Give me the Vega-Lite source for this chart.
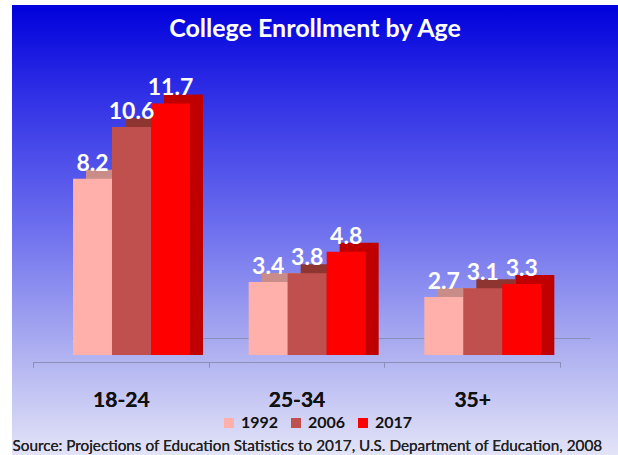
{
  "$schema": "https://vega.github.io/schema/vega-lite/v6.json",
  "autosize": {"type": "none"},
  "padding": {"left": 12, "top": 5, "right": 0, "bottom": 0},
  "width": 606,
  "height": 450,
  "background": "white",
  "view": {
    "stroke": null,
    "fill": {
      "gradient": "linear",
      "x1": 0, "y1": 0, "x2": 0, "y2": 1,
      "stops": [
        {"offset": 0, "color": "#0000dc"},
        {"offset": 0.2, "color": "#3030e6"},
        {"offset": 0.5, "color": "#6e70ee"},
        {"offset": 0.75, "color": "#a9abf0"},
        {"offset": 1, "color": "#e3e4f7"}
      ]
    }
  },
  "config": {"font": "Lato"},
  "title": {
    "text": "College Enrollment by Age",
    "color": "white",
    "font": "Lato",
    "fontSize": 25,
    "fontWeight": "bold",
    "anchor": "middle",
    "baseline": "middle",
    "offset": -27,
    "dy": 22
  },
  "data": {
    "values": [
      {"age": "18-24", "year": "1992", "value": 8.2},
      {"age": "18-24", "year": "2006", "value": 10.6},
      {"age": "18-24", "year": "2017", "value": 11.7},
      {"age": "25-34", "year": "1992", "value": 3.4},
      {"age": "25-34", "year": "2006", "value": 3.8},
      {"age": "25-34", "year": "2017", "value": 4.8},
      {"age": "35+", "year": "1992", "value": 2.7},
      {"age": "35+", "year": "2006", "value": 3.1},
      {"age": "35+", "year": "2017", "value": 3.3}
    ]
  },
  "encoding": {
    "x": {
      "field": "age",
      "type": "nominal",
      "sort": ["18-24", "25-34", "35+"],
      "scale": {"range": [21, 548], "paddingInner": 0, "paddingOuter": 0},
      "axis": {
        "orient": "bottom",
        "offset": -93,
        "domain": true,
        "domainColor": "#8a8fb8",
        "domainWidth": 1,
        "ticks": true,
        "tickBand": "extent",
        "tickSize": 5,
        "tickColor": "#8a8fb8",
        "grid": false,
        "labelAngle": 0,
        "labelFont": "Lato",
        "labelFontSize": 21,
        "labelFontWeight": "bold",
        "labelColor": "#111111",
        "labelPadding": 22,
        "title": "Source: Projections of Education Statistics to 2017, U.S. Department of Education, 2008",
        "titleFont": "Lato",
        "titleFontSize": 15.3,
        "titleFontWeight": "normal",
        "titleColor": "#222222",
        "titleAnchor": "start",
        "titleAlign": "left",
        "titleBaseline": "alphabetic",
        "titleX": 0,
        "titleY": 88
      }
    },
    "y": {
      "field": "value",
      "type": "quantitative",
      "scale": {"domain": [-4.651, 16.279], "nice": false, "zero": false},
      "axis": null
    }
  },
  "layer": [
    {
      "layer": [
        {
          "mark": {"type": "text", "opacity": 0},
          "encoding": {
            "x": {
              "field": "age",
              "type": "nominal",
              "sort": ["18-24", "25-34", "35+"],
              "scale": {"range": [60, 578], "paddingInner": 0, "paddingOuter": 0},
              "axis": {
                "orient": "bottom",
                "offset": -117,
                "domain": true,
                "domainColor": "#8a8fb8",
                "domainWidth": 1,
                "ticks": false,
                "labels": false,
                "grid": false,
                "title": null
              }
            },
            "text": {"value": ""}
          }
        }
      ]
    },
    {
      "mark": {"type": "bar", "yOffset": -9},
      "encoding": {
        "xOffset": {
          "field": "year",
          "type": "nominal",
          "sort": ["1992", "2006", "2017"],
          "scale": {"range": [53, 170], "paddingInner": 0, "paddingOuter": 0}
        },
        "y2": {"datum": 0},
        "color": {
          "field": "year",
          "type": "nominal",
          "scale": {"domain": ["1992", "2006", "2017"], "range": ["#c98c88", "#8e3431", "#c00000"]},
          "legend": null
        }
      }
    },
    {
      "layer": [
        {
          "mark": {"type": "bar"},
          "encoding": {
            "y2": {"datum": 0},
            "fill": {
              "field": "year",
              "type": "nominal",
              "scale": {"domain": ["1992", "2006", "2017"], "range": ["#ffb0ab", "#c0504d", "#ff0000"]},
              "legend": {
                "orient": "none",
                "legendX": 209,
                "legendY": 410,
                "direction": "horizontal",
                "title": null,
                "symbolType": "square",
                "symbolSize": 100,
                "symbolStrokeWidth": 0,
                "labelFont": "Lato",
                "labelFontSize": 16,
                "labelFontWeight": "bold",
                "labelColor": "#111111",
                "labelOffset": 4,
                "columnPadding": 9
              }
            }
          }
        },
        {
          "mark": {"type": "text", "baseline": "alphabetic", "dy": -8, "color": "white", "font": "Lato", "fontSize": 23, "fontWeight": "bold"},
          "encoding": {
            "text": {"field": "value", "type": "quantitative", "format": ".1f"}
          }
        }
      ],
      "encoding": {
        "xOffset": {
          "field": "year",
          "type": "nominal",
          "sort": ["1992", "2006", "2017"],
          "scale": {"range": [40, 157], "paddingInner": 0, "paddingOuter": 0}
        }
      }
    }
  ],
  "resolve": {"scale": {"x": "independent", "color": "independent", "fill": "independent", "xOffset": "independent"}}
}
